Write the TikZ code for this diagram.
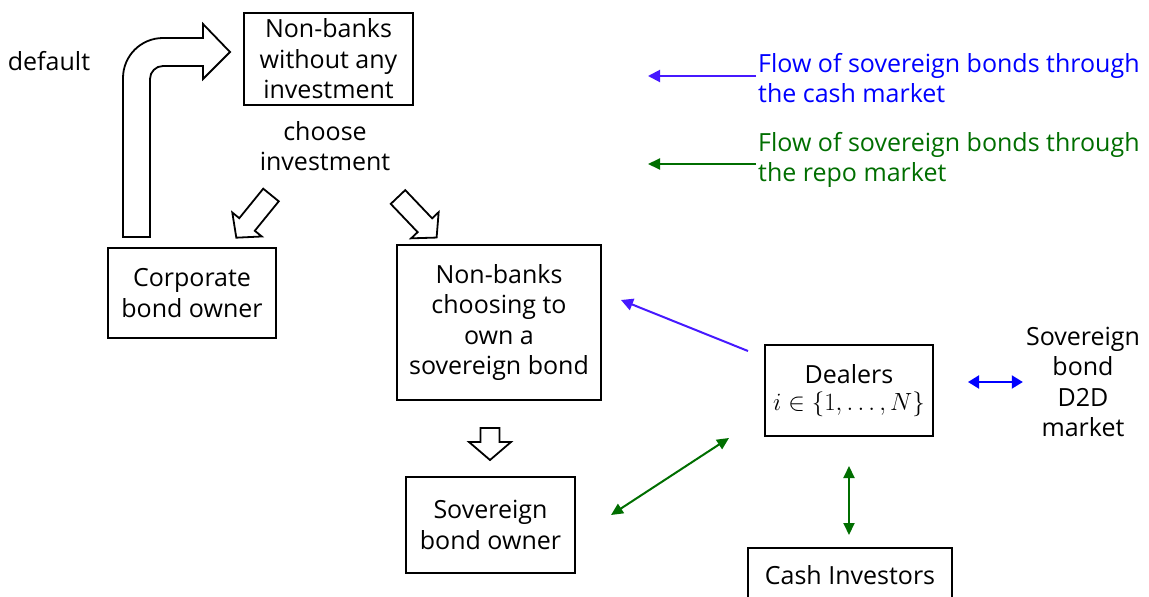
\documentclass[tikz,border=0pt]{standalone}
\usepackage{fontspec}
\setmainfont{Open Sans}
\usetikzlibrary{arrows.meta}
\definecolor{cashblue}{RGB}{70,25,255}
\definecolor{repogreen}{RGB}{0,110,0}
\begin{document}
\begin{tikzpicture}[x=1pt,y=1pt]
\tikzstyle{every node}+=[inner sep=0pt,font=\fontsize{25}{30.5}\selectfont]
\tikzstyle{box}=[draw=black,line width=2pt,align=center]
\tikzstyle{hollow}=[draw=black,fill=white,line width=1.8pt,line join=miter]
\tikzstyle{cash}=[cashblue,line width=2pt,-{Triangle[length=12pt,width=12pt]}]
\tikzstyle{repo}=[repogreen,line width=2pt,-{Triangle[length=12pt,width=11pt]}]
\tikzstyle{repoboth}=[repogreen,line width=2pt,{Triangle[length=12pt,width=11pt]}-{Triangle[length=12pt,width=11pt]}]
\tikzstyle{dd}=[blue,line width=2pt,{Triangle[length=11pt,width=13pt]}-{Triangle[length=11pt,width=13pt]}]
\useasboundingbox (0,0) rectangle (1149,-597);
% boxes
\node [box,minimum width=169,minimum height=92] (nobank) at (328.5,-59) {Non-banks\\without any\\investment};
\node [box,minimum width=168,minimum height=90] (corp) at (192,-293) {Corporate\\bond owner};
\node [box,minimum width=204,minimum height=155] (sovchoose) at (499,-322.5) {Non-banks\\choosing to\\own a\\sovereign bond};
\node [box,minimum width=169,minimum height=96] (sovowner) at (490.5,-525) {Sovereign\\bond owner};
\node [box,minimum width=168,minimum height=91] (dealers) at (849,-390.5) {Dealers\\[-3pt]$i\in\{1,\ldots,N\}$};
\node [box,minimum width=204,minimum height=54] (cashinv) at (850,-575) {Cash Investors};
% texts
\node (default) at (49,-61) {default};
\node [align=center] (choose) at (325,-146) {choose\\investment};
\node [align=center] (d2d) at (1083,-382) {Sovereign\\bond\\D2D\\market};
\node [anchor=west,align=left,text=blue] (legcash) at (758,-78) {Flow of sovereign bonds through\\the cash market};
\node [anchor=west,align=left,text=repogreen] (legrepo) at (758,-160) {Flow of sovereign bonds through\\the repo market};
\coordinate (cashtip) at (648,-76);
\coordinate (repotip) at (648,-164);
% hollow arrows
\draw [hollow] (123,-237) -- (123,-78) arc (180:90:40) -- (203,-38) -- (203,-24) -- (230,-52)
  -- (203,-79) -- (203,-66) -- (163,-66) arc (90:180:13) -- (150,-237) -- cycle;
\draw [hollow,shift={(271,-195)},rotate=230.9] (0,-10) -- (38,-10) -- (38,-19) -- (55,0) -- (38,19) -- (38,10) -- (0,10) -- cycle;
\draw [hollow,shift={(398,-197)},rotate=-46.4] (0,-10) -- (39,-10) -- (39,-19) -- (56,0) -- (39,19) -- (39,10) -- (0,10) -- cycle;
\draw [hollow,shift={(490,-428)},rotate=-90] (0,-9.5) -- (14,-9.5) -- (14,-21) -- (32,0) -- (14,21) -- (14,9.5) -- (0,9.5) -- cycle;
% flows
\draw [cash] ([shift={(-16,-7)}]dealers.north west) -- ([shift={(19,22.5)}]sovchoose.east);
\draw [repoboth] ([shift={(35,10)}]sovowner.east) -- ([shift={(-35,-1)}]dealers.south west);
\draw [repoboth,shorten <=29pt,shorten >=12pt] (dealers.south) -- (dealers.south |- cashinv.north);
\draw [dd,shorten <=34pt,shorten >=3pt] (dealers.east |- d2d.west) -- (d2d.west);
% legend
\draw [cash] ([xshift=-2pt,yshift=2pt]legcash.west) -- (cashtip);
\draw [repo] ([xshift=-2pt,yshift=-4pt]legrepo.west) -- (repotip);
\end{tikzpicture}
\end{document}
